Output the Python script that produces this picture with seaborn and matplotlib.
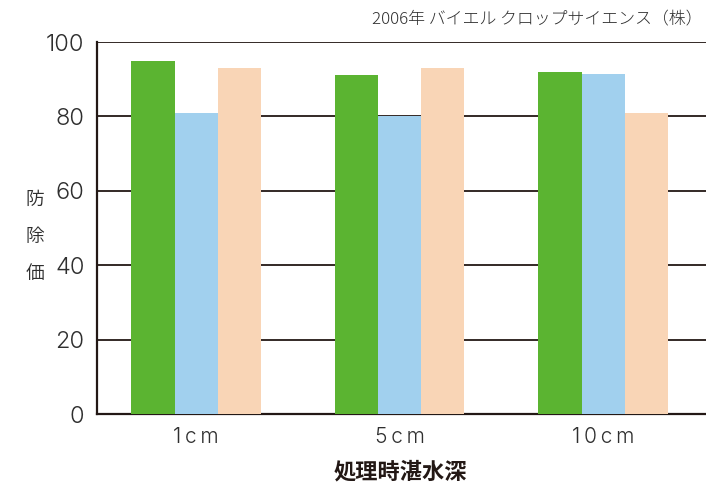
import matplotlib
matplotlib.use("Agg")
import matplotlib.pyplot as plt
import seaborn as sns
import pandas as pd

# 処理時湛水深ごとの防除価（3剤）
depths = ["1cm", "5cm", "10cm"]
agent_names = ["剤A", "剤B", "剤C"]
agent_a = [95, 91, 92]
agent_b = [81, 80, 91.5]
agent_c = [93, 93, 81]
y_ticks = [0, 20, 40, 60, 80, 100]

colors = ["#5bb431", "#a1d0ee", "#f9d5b6"]
ink = "#231815"
text_gray = "#2f2f2f"

df = pd.DataFrame({
    "depth": depths * 3,
    "agent": [agent_names[0]] * 3 + [agent_names[1]] * 3 + [agent_names[2]] * 3,
    "value": agent_a + agent_b + agent_c,
})

sns.set_theme(style="white")
plt.rcParams["font.family"] = ["Inter", "Noto Sans CJK JP", "DejaVu Sans"]

fig = plt.figure(figsize=(7.06, 4.86), dpi=100)
ax = fig.add_axes([97 / 706, 1 - 414 / 486, 1 - 97 / 706, (414 - 42) / 486])

sns.barplot(data=df, x="depth", y="value", hue="agent", order=depths,
            hue_order=agent_names, palette=colors, width=0.635, gap=0,
            saturation=1, legend=False, errorbar=None, ax=ax, zorder=3,
            linewidth=0)

ax.set_ylim(0, 100)
ax.set_xlim(-0.487, 2.506)
ax.set_yticks(y_ticks)
ax.set_yticklabels([str(v) for v in y_ticks], fontsize=17, fontweight=300,
                   color=text_gray)
ax.set_xticks(range(len(depths)))
# letter-spaced depth labels
ax.set_xticklabels(["\u2009".join(d) for d in depths], fontsize=15,
                   fontweight=300, color=text_gray)
ax.tick_params(axis="both", length=0)
ax.tick_params(axis="y", pad=9)
ax.tick_params(axis="x", pad=9)

ax.yaxis.grid(True, color=ink, linewidth=1.3, zorder=1)
ax.set_axisbelow(True)
for side in ["top", "right"]:
    ax.spines[side].set_visible(False)
for side in ["left", "bottom"]:
    ax.spines[side].set_color(ink)
    ax.spines[side].set_linewidth(1.6)

ax.set_xlabel("処理時湛水深", fontsize=16, fontweight="bold", color=ink,
              family=["Noto Sans CJK JP"], va="center")
ax.xaxis.set_label_coords((400 - 97) / (706 - 97), (414 - 472) / 372)
ax.set_ylabel("")
fig.text(35 / 706, 1 - 236 / 486, "防\n除\n価", ha="center", va="center",
         fontsize=13.5, color=text_gray, fontweight=350, linespacing=2.0,
         family=["Noto Sans CJK JP"])
fig.text(703 / 706, 1 - 20 / 486, "2006年 バイエル クロップサイエンス（株）",
         ha="right", va="center", fontsize=12.2, color=text_gray,
         fontweight=300, family=["Noto Sans CJK JP"])

fig.savefig("out.png", dpi=100)
